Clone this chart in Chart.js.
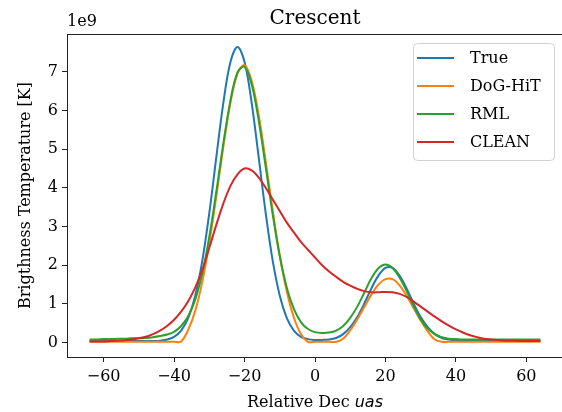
<!DOCTYPE html>
<html>
<head>
<meta charset="utf-8">
<script src="https://cdn.jsdelivr.net/npm/chart.js@4.4.1/dist/chart.umd.min.js"></script>
<style>
  html, body { margin: 0; padding: 0; background: #fff; overflow: hidden; }
  #wrap { width: 562px; height: 412px; overflow: hidden; }
</style>
</head>
<body>
<div id="wrap"><canvas id="chart" width="570" height="412"></canvas></div>
<script>
// Relative Dec positions (uas)
const decPos = [
  -64, -62, -60, -58, -56, -54, -52, -50, -48, -46, -44, -42, -40, -38, -36, -34, -32,
  -30, -28, -26, -24, -22, -20, -18, -16, -14, -12, -10, -8, -6, -4, -2, 0,
  2, 4, 6, 8, 10, 12, 14, 16, 18, 20, 22, 24, 26, 28, 30, 32,
  34, 36, 38, 40, 42, 44, 46, 48, 50, 52, 54, 56, 58, 60, 62, 64
];

// Brightness temperature, units of 1e9 K
const trueVals = [
  0.04, 0.04, 0.04, 0.04, 0.04, 0.04, 0.04, 0.04, 0.04, 0.04, 0.05, 0.08, 0.15, 0.31, 0.63, 1.21, 2.11,
  3.35, 4.80, 6.21, 7.25, 7.64, 7.25, 6.21, 4.80, 3.35, 2.11, 1.21, 0.63, 0.31, 0.15, 0.09, 0.07,
  0.07, 0.08, 0.12, 0.22, 0.40, 0.66, 1.01, 1.40, 1.73, 1.93, 1.93, 1.73, 1.40, 1.01, 0.66, 0.40,
  0.22, 0.12, 0.08, 0.05, 0.04, 0.04, 0.04, 0.04, 0.04, 0.04, 0.04, 0.04, 0.04, 0.04, 0.04, 0.04
];
const dogVals = [
  0.02, 0.02, 0.02, 0.02, 0.02, 0.02, 0.02, 0.02, 0.02, 0.02, 0.02, 0.02, 0.02, 0.03, 0.33, 0.82, 1.57,
  2.58, 3.79, 5.07, 6.20, 6.95, 7.17, 6.77, 5.89, 4.69, 3.41, 2.25, 1.32, 0.65, 0.22, 0.02, 0.02,
  0.02, 0.02, 0.02, 0.10, 0.32, 0.60, 0.92, 1.24, 1.50, 1.64, 1.64, 1.48, 1.21, 0.89, 0.57, 0.29,
  0.08, 0.02, 0.02, 0.02, 0.02, 0.02, 0.02, 0.02, 0.02, 0.02, 0.02, 0.02, 0.02, 0.02, 0.02, 0.02
];
const rmlVals = [
  0.08, 0.08, 0.09, 0.09, 0.10, 0.10, 0.11, 0.11, 0.12, 0.14, 0.17, 0.21, 0.28, 0.43, 0.68, 1.11, 1.79,
  2.74, 3.91, 5.16, 6.26, 6.98, 7.13, 6.68, 5.75, 4.54, 3.31, 2.23, 1.42, 0.87, 0.53, 0.35, 0.27,
  0.25, 0.26, 0.31, 0.43, 0.64, 0.93, 1.29, 1.66, 1.92, 2.02, 1.93, 1.68, 1.33, 0.95, 0.60, 0.36,
  0.22, 0.14, 0.10, 0.09, 0.08, 0.08, 0.08, 0.08, 0.08, 0.08, 0.08, 0.08, 0.08, 0.08, 0.08, 0.08
];
const cleanVals = [
  0.03, 0.03, 0.03, 0.04, 0.05, 0.06, 0.08, 0.11, 0.15, 0.22, 0.31, 0.43, 0.59, 0.80, 1.07, 1.42, 1.88,
  2.45, 3.05, 3.60, 4.05, 4.35, 4.50, 4.45, 4.27, 4.00, 3.70, 3.40, 3.10, 2.85, 2.60, 2.40, 2.20,
  2.00, 1.84, 1.70, 1.57, 1.47, 1.39, 1.33, 1.30, 1.30, 1.31, 1.30, 1.26, 1.18, 1.06, 0.93, 0.80,
  0.67, 0.55, 0.44, 0.34, 0.26, 0.19, 0.14, 0.10, 0.08, 0.06, 0.05, 0.05, 0.04, 0.04, 0.04, 0.04
];

const seriesNames = ['True', 'DoG-HiT', 'RML', 'CLEAN'];
const seriesColors = ['#1f77b4', '#ff7f0e', '#2ca02c', '#d62728'];
const xTickVals = [-60, -40, -20, 0, 20, 40, 60];
const yTickVals = [0, 1, 2, 3, 4, 5, 6, 7];

const SERIF = "'DejaVu Serif', serif";
const minus = v => String(v).replace('-', '\u2212');

// Titles, axis labels and legend (matplotlib style)
const decorPlugin = {
  id: 'decor',
  afterDraw(chart) {
    const { ctx, chartArea: a } = chart;
    const cx = (a.left + a.right) / 2;
    ctx.save();

    // top spine, drawn explicitly as well
    ctx.strokeStyle = '#222';
    ctx.lineWidth = 1;
    ctx.beginPath();
    ctx.moveTo(a.left, a.top + 0.5);
    ctx.lineTo(a.right, a.top + 0.5);
    ctx.stroke();

    ctx.fillStyle = '#000';
    ctx.textBaseline = 'alphabetic';

    // title
    ctx.font = `20px ${SERIF}`;
    ctx.textAlign = 'center';
    ctx.fillText('Crescent', cx, 24);

    // offset text
    ctx.font = `16px ${SERIF}`;
    ctx.textAlign = 'left';
    ctx.fillText('1e9', a.left, 26);

    // x label: roman part + italic math part
    const part1 = 'Relative Dec ';
    const part2 = 'uas';
    ctx.font = `16px ${SERIF}`;
    const w1 = ctx.measureText(part1).width;
    ctx.font = "oblique 16px 'DejaVu Sans', sans-serif";
    const w2 = ctx.measureText(part2).width;
    const x0 = cx - (w1 + w2) / 2;
    ctx.font = `16px ${SERIF}`;
    ctx.fillText(part1, x0, 407);
    ctx.font = "oblique 16px 'DejaVu Sans', sans-serif";
    ctx.fillText(part2, x0 + w1, 407);

    // y label
    ctx.save();
    ctx.translate(30, (a.top + a.bottom) / 2);
    ctx.rotate(-Math.PI / 2);
    ctx.font = `16px ${SERIF}`;
    ctx.textAlign = 'center';
    ctx.fillText('Brigthness Temperature [K]', 0, 0);
    ctx.restore();

    // legend
    const lx = 413, ly = 43, lw = 141, lh = 117;
    ctx.beginPath();
    ctx.roundRect(lx + 0.5, ly + 0.5, lw, lh, 4);
    ctx.fillStyle = 'rgba(255,255,255,0.8)';
    ctx.fill();
    ctx.strokeStyle = '#d0d0d0';
    ctx.lineWidth = 1;
    ctx.stroke();
    ctx.font = `16px ${SERIF}`;
    ctx.textAlign = 'left';
    ctx.textBaseline = 'middle';
    chart.data.datasets.forEach((ds, i) => {
      const y = 58 + i * 28;
      ctx.strokeStyle = ds.borderColor;
      ctx.lineWidth = 2;
      ctx.beginPath();
      ctx.moveTo(417, y);
      ctx.lineTo(454, y);
      ctx.stroke();
      ctx.fillStyle = '#000';
      ctx.fillText(ds.label, 470, y + 1);
    });
    ctx.restore();
  }
};

const datasets = [trueVals, dogVals, rmlVals, cleanVals].map((vals, i) => ({
  label: seriesNames[i],
  data: decPos.map((x, j) => ({ x: x, y: vals[j] })),
  borderColor: seriesColors[i],
  borderWidth: 2,
  pointRadius: 0,
  fill: false,
  tension: 0.35,
  order: seriesNames.length - i
}));

// bare axes used only for the top and right spines
const spineAxis = (pos, min, max) => ({
  type: 'linear',
  position: pos,
  min: min,
  max: max,
  afterFit: s => { if (pos === 'top') { s.height = 0; } else { s.width = 0; } },
  grid: { display: false },
  border: { display: true, color: '#222', width: 1 },
  ticks: { display: false }
});

new Chart(document.getElementById('chart'), {
  type: 'line',
  data: { datasets: datasets },
  options: {
    responsive: false,
    animation: false,
    devicePixelRatio: 1,
    layout: { padding: { left: 0, top: 34, right: 7, bottom: 0 } },
    plugins: {
      legend: { display: false },
      tooltip: { enabled: false }
    },
    scales: {
      x: {
        type: 'linear',
        min: -70.4,
        max: 70.4,
        afterBuildTicks: s => { s.ticks = xTickVals.map(v => ({ value: v })); },
        afterFit: s => { s.height = 55; },
        grid: { drawOnChartArea: false, drawTicks: true, tickLength: 5, color: '#222' },
        border: { display: true, color: '#222' },
        ticks: {
          font: { family: SERIF, size: 16 },
          color: '#000',
          padding: 5,
          maxRotation: 0,
          callback: v => minus(v)
        }
      },
      xTop: spineAxis('top', -70.4, 70.4),
      y: {
        type: 'linear',
        min: -0.372,
        max: 7.975,
        afterBuildTicks: s => { s.ticks = yTickVals.map(v => ({ value: v })); },
        afterFit: s => { s.width = 67; },
        grid: { drawOnChartArea: false, drawTicks: true, tickLength: 5, color: '#222' },
        border: { display: true, color: '#222' },
        ticks: {
          font: { family: SERIF, size: 16 },
          color: '#000',
          padding: 4,
          callback: v => minus(v)
        }
      },
      yRight: spineAxis('right', -0.372, 7.975)
    }
  },
  plugins: [decorPlugin]
});
</script>
</body>
</html>
